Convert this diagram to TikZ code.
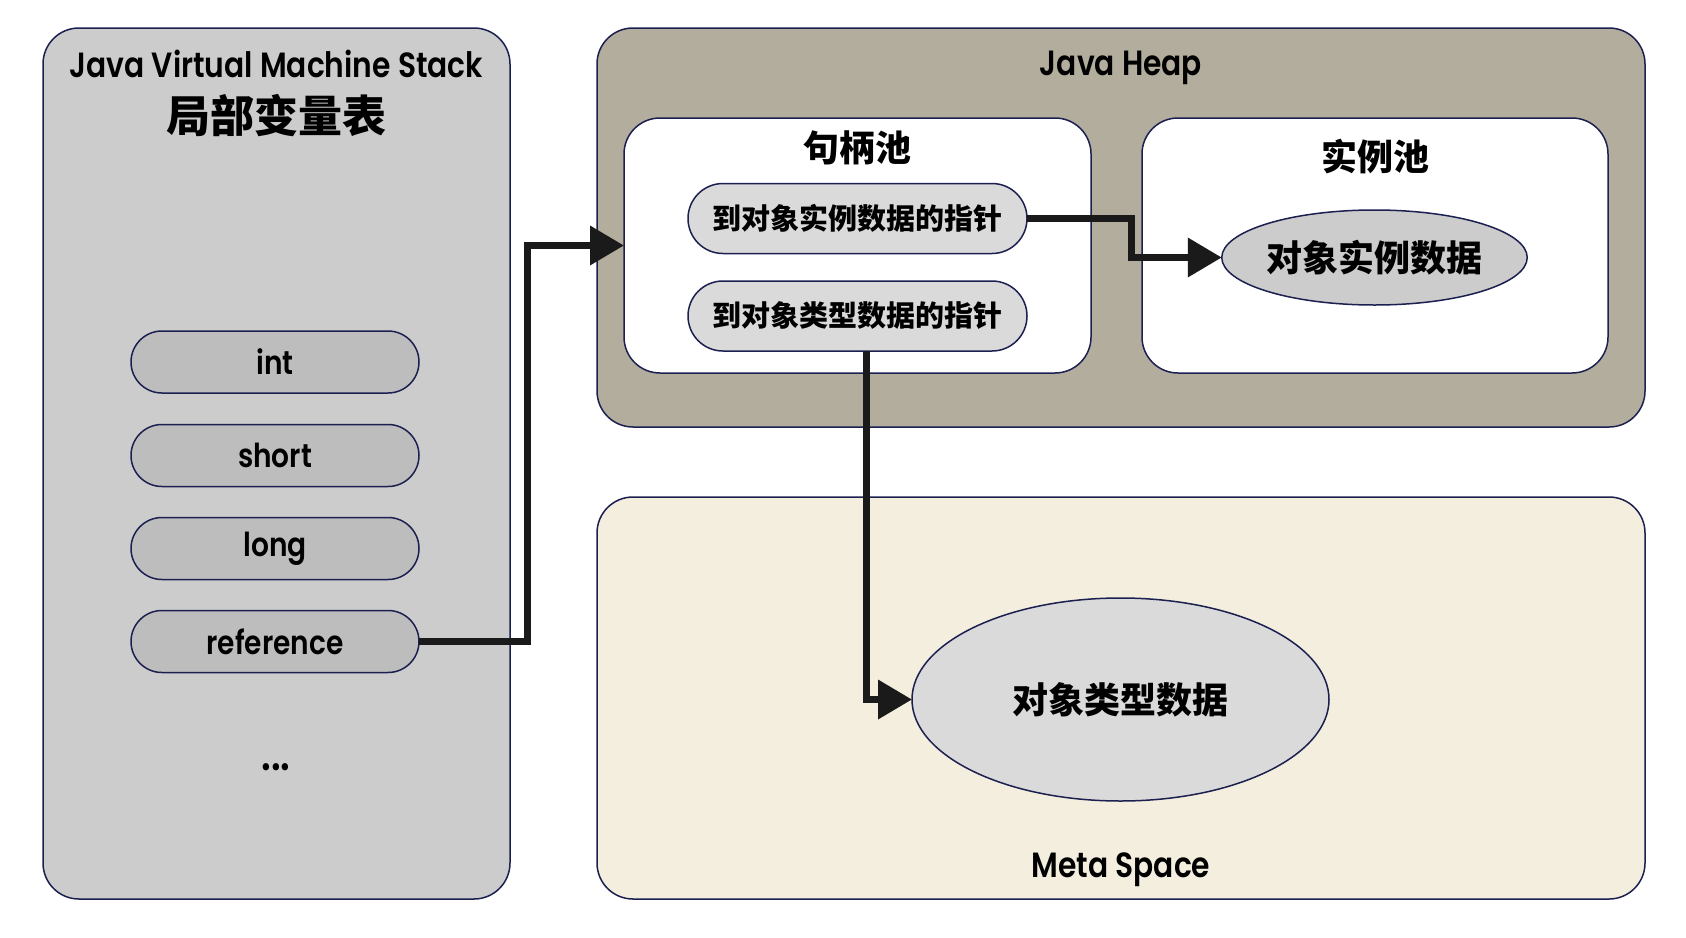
\documentclass[tikz,border=0pt]{standalone}
\usepackage{fontspec}
\setmainfont{Poppins}[UprightFont=* SemiBold, FakeStretch=0.85]
\newfontfamily\cjk{Noto Sans CJK SC}
\usepackage{tikz}
\usetikzlibrary{arrows.meta, shapes.geometric, calc}
\definecolor{edge}{HTML}{1B2050}
\definecolor{stackbg}{HTML}{CCCCCC}
\definecolor{slotbg}{HTML}{BDBDBD}
\definecolor{heapbg}{HTML}{B3AD9E}
\definecolor{metabg}{HTML}{F3EEDD}
\definecolor{ptrbg}{HTML}{DADADA}
\definecolor{flowc}{HTML}{1A1A1A}

\begin{document}
\begin{tikzpicture}[x=1pt, y=-1pt, >={Triangle[length=34pt,width=38pt]},
  every node/.style={inner sep=0pt, outer sep=0pt},
  area/.style={draw=edge, line width=1.5pt, rounded corners=36pt},
  slot/.style={draw=edge, line width=1.5pt, fill=slotbg, rounded corners=31pt,
    minimum width=288pt, minimum height=62pt, font=\fontsize{33}{38}\selectfont},
  ptr/.style={draw=edge, line width=1.5pt, fill=ptrbg, rounded corners=35pt,
    minimum width=339pt, minimum height=70pt, font=\cjk\bfseries\fontsize{29}{34}\selectfont},
  blob/.style={ellipse, draw=edge, line width=1.5pt},
  ttl/.style={font=\fontsize{35}{40}\selectfont},
  cjkttl/.style={font=\cjk\bfseries\fontsize{36}{42}\selectfont},
  flow/.style={->, draw=flowc, line width=7pt}]
  \useasboundingbox (0,0) rectangle (1686,937);

  \node[area, fill=stackbg, minimum width=467pt, minimum height=871pt] (stack) at (276.5,463.5) {};
  \node[ttl] (stackttl) at (276.5,64) {Java Virtual Machine Stack};
  \node[font=\cjk\bfseries\fontsize{44}{50}\selectfont] (lvt) at (276.5,116) {局部变量表};
  \node[slot] (int) at (275,362) {int};
  \node[slot] (short) at (275,455.5) {short};
  \node[slot] (long) at (275,548.5) {long};
  \node[slot] (ref) at (275,641.5) {reference};
  \node[font=\fontsize{44}{50}\selectfont, anchor=base] (more) at (276,770) {...};

  \node[area, fill=heapbg, minimum width=1048pt, minimum height=399pt] (heap) at (1121,227.5) {};
  \node[ttl] (heapttl) at (1121,68) {Java Heap};
  \node[area, fill=white, minimum width=467pt, minimum height=255pt] (hpool) at (857.5,245.5) {};
  \node[cjkttl] (hpoolttl) at (857.5,148) {句柄池};
  \node[ptr] (p1) at (857.5,218.5) {到对象实例数据的指针};
  \node[ptr] (p2) at (857.5,316) {到对象类型数据的指针};
  \node[area, fill=white, minimum width=466pt, minimum height=255pt] (ipool) at (1375,245.5) {};
  \node[cjkttl] (ipoolttl) at (1375,157) {实例池};
  \node[blob, fill=stackbg, minimum width=301pt, minimum height=95pt, font=\cjk\bfseries\fontsize{36}{42}\selectfont] (inst) at (1374.5,257.5) {对象实例数据};

  \node[area, fill=metabg, minimum width=1048pt, minimum height=402pt] (meta) at (1121,698) {};
  \node[ttl] (metattl) at (1121,870) {Meta Space};
  \node[blob, fill=ptrbg, minimum width=417pt, minimum height=203pt, font=\cjk\bfseries\fontsize{36}{42}\selectfont] (klass) at (1120.5,699.5) {对象类型数据};

  \coordinate (jA) at (527,0);
  \coordinate (jB) at (1131,0);
  \coordinate (jC) at (866,0);
  \draw[flow] (ref.east) -- (ref.east -| jA) |- (hpool.west);
  \draw[flow] (p1.east) -- (p1.east -| jB) |- (inst.west);
  \draw[flow] (p2.south -| jC) |- (klass.west);
\end{tikzpicture}
\end{document}
